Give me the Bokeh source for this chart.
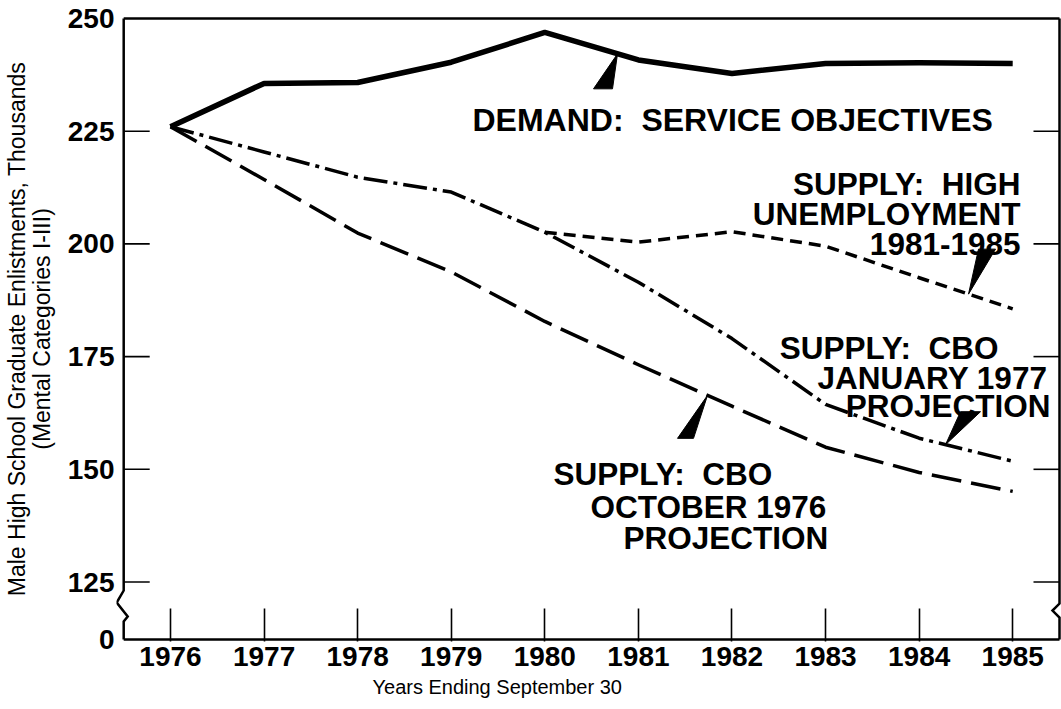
import numpy as np
from bokeh.plotting import figure
from bokeh.models import Range1d, FixedTicker, Label, Title
from bokeh.embed import file_html
from bokeh.resources import INLINE

# ---------------- data ----------------
years = [1976, 1977, 1978, 1979, 1980, 1981, 1982, 1983, 1984, 1985]
demand = [226, 235.6, 235.8, 240.3, 246.9, 240.8, 237.8, 240.0, 240.2, 240.0]
supply_jan1977 = [226, 220.4, 214.8, 211.5, 202.6, 191.5, 179.0, 164.4, 156.9, 151.8]
supply_oct1976 = [226, 214.3, 202.4, 193.8, 182.8, 173.2, 164.0, 154.9, 149.3, 145.1]
hu_years = [1980, 1981, 1982, 1983, 1984, 1985]
supply_high_unemp = [202.6, 200.4, 202.7, 199.5, 192.5, 185.6]

y_ticks = [125, 150, 175, 200, 225, 250]
zero_label = "0"

# ---------------- geometry ----------------
PX_X = 93.58     # pixels per year
PX_Y = 4.508     # pixels per thousand
XL = 123.2       # pixel of the left frame line
X0, X1 = 1975.5, 1985.5
Y1 = 250.0
Y0 = 112.25      # position where the broken axis shows "0"

FONT = "Liberation Sans"
SP = "\u00a0"

p = figure(width=1061, height=709,
           x_range=Range1d(X0 - 7.2 / PX_X, X1 + 2 / PX_X),
           y_range=Range1d(Y0 - 2 / PX_Y, Y1 + 2 / PX_Y),
           output_backend="svg", toolbar_location=None,
           min_border_left=116, min_border_right=0,
           min_border_top=16, min_border_bottom=68)
p.grid.visible = False
p.outline_line_color = None
p.background_fill_color = "white"
p.border_fill_color = "white"

# x axis
xa = p.xaxis[0]
xa.ticker = FixedTicker(ticks=years)
xa.axis_line_color = None
xa.major_tick_in = 33
xa.major_tick_out = 0
xa.major_tick_line_width = 1.6
xa.minor_tick_line_color = None
xa.major_label_text_font = FONT
xa.major_label_text_font_style = "bold"
xa.major_label_text_font_size = "28px"
xa.major_label_text_color = "black"
xa.major_label_standoff = 5

# y axis
ya = p.yaxis[0]
ya.ticker = FixedTicker(ticks=[Y0] + y_ticks)
ya.major_label_overrides = {Y0: zero_label}
ya.axis_line_color = None
ya.major_tick_in = 0
ya.major_tick_out = 0
ya.minor_tick_line_color = None
ya.major_label_text_font = FONT
ya.major_label_text_font_style = "bold"
ya.major_label_text_font_size = "28px"
ya.major_label_text_color = "black"
ya.major_label_standoff = 2
ya.axis_label = "Male High School Graduate Enlistments, Thousands\n(Mental Categories I-III)"
ya.axis_label_text_font = FONT
ya.axis_label_text_font_style = "normal"
ya.axis_label_text_font_size = "23px"
ya.axis_label_text_line_height = 0.95
ya.axis_label_text_color = "black"
ya.axis_label_standoff = 10

# x axis title (placed off-centre as in the original)
p.add_layout(Title(text="Years Ending September 30", align="left", offset=256,
                   text_font=FONT, text_font_size="20px", text_font_style="normal",
                   text_color="black", standoff=10), "below")

# ---------------- frame with axis breaks ----------------
fw = 2.5
def yp(px_from_top):
    return Y1 - (px_from_top - 18) / PX_Y

p.line([X0, X1], [Y1, Y1], line_color="black", line_width=fw)
p.line([X0, X1], [Y0, Y0], line_color="black", line_width=fw)
p.line([X0, X0, X0 - 7 / PX_X, X0 + 4 / PX_X, X0, X0],
       [Y1, yp(590), yp(602), yp(616), yp(621), Y0],
       line_color="black", line_width=fw, line_join="miter")
p.line([X1, X1, X1 - 7 / PX_X, X1, X1],
       [Y1, yp(603), yp(610), yp(617), Y0],
       line_color="black", line_width=fw, line_join="miter")

inner = y_ticks[:-1]
p.segment(x0=[X0] * len(inner), x1=[X0 + 26 / PX_X] * len(inner), y0=inner, y1=inner,
          line_color="black", line_width=1.6)
p.segment(x0=[X1 - 26 / PX_X] * len(inner), x1=[X1] * len(inner), y0=inner, y1=inner,
          line_color="black", line_width=1.6)

# ---------------- series ----------------
p.line(years, demand, line_color="black", line_width=5.5, line_join="round")
p.line(years, supply_jan1977, line_color="black", line_width=3.5,
       line_dash="24 6 4 6", line_join="round")
p.line(years, supply_oct1976, line_color="black", line_width=3.5,
       line_dash="30 10", line_join="round")
p.line(hu_years, supply_high_unemp, line_color="black", line_width=3.5,
       line_dash="12 7", line_join="round")

# ---------------- labels ----------------
def rx(px):  # reference pixel -> data x
    return X0 + (px - XL) / PX_X

labels = [
    ("DEMAND:" + SP + " SERVICE OBJECTIVES", 472, 119, "left", "32px"),
    ("SUPPLY:" + SP + " HIGH", 1020, 183, "right", "31.5px"),
    ("UNEMPLOYMENT", 1020, 213, "right", "31.5px"),
    ("1981-1985", 1020, 243, "right", "31.5px"),
    ("SUPPLY:" + SP + " CBO", 998, 347, "right", "31.5px"),
    ("JANUARY 1977", 1047, 377, "right", "31.5px"),
    ("PROJECTION", 1050, 405, "right", "31.5px"),
    ("SUPPLY:" + SP + " CBO", 553, 473, "left", "31.5px"),
    ("OCTOBER 1976", 590, 506, "left", "31.5px"),
    ("PROJECTION", 623, 537, "left", "31.5px"),
]
for txt, px, py, al, fs in labels:
    p.add_layout(Label(x=rx(px), y=yp(py), text=txt, text_align=al,
                       text_baseline="alphabetic", text_font=FONT,
                       text_font_style="bold", text_font_size=fs,
                       text_color="black"))

# ---------------- pointer wedges ----------------
pointers = [  # apex x, series x, series y, base offsets (px): dx_left, dx_right, dy (down +)
    (rx(617), years, demand, -24, -5, 35),
    (rx(968), hu_years, supply_high_unemp, 10, 27, -45),
    (rx(945), years, supply_jan1977, 15, 35, -33),
    (rx(707), years, supply_oct1976, -30, -14, 43),
]
xs, ys = [], []
for ax, sx, sy, dl, dr, dy in pointers:
    ay = float(np.interp(ax, sx, sy))
    xs.append([ax, ax + dl / PX_X, ax + dr / PX_X])
    ys.append([ay, ay - dy / PX_Y, ay - dy / PX_Y])
p.patches(xs, ys, fill_color="black", line_color="black", line_width=1)

open("out.html", "w").write(file_html(p, INLINE))
